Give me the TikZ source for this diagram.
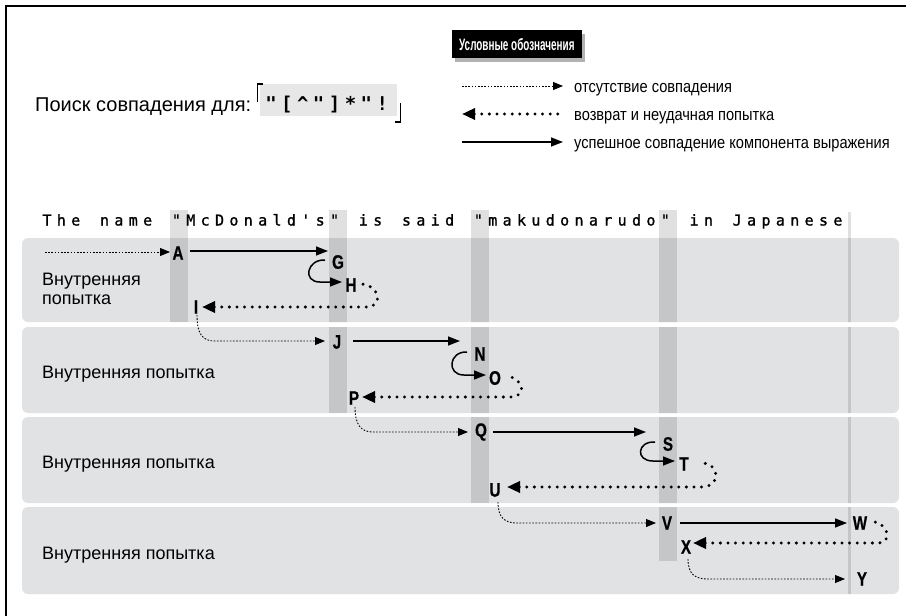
\documentclass[tikz,border=0pt]{standalone}
\usepackage{fontspec}
\setmainfont{Liberation Sans}
\newfontfamily\keyfont[FakeStretch=0.78,FakeBold=0.5]{Liberation Sans}
\newfontfamily\headfont[FakeStretch=0.6]{Liberation Sans}
\newfontfamily\legfont[FakeStretch=0.86]{Liberation Sans}
\newfontfamily\mfont[FakeBold=1.2]{DejaVu Sans Mono}
\newfontfamily\rxfont{DejaVu Sans Mono}
\usetikzlibrary{arrows.meta,calc,shadows}
\definecolor{bandgray}{HTML}{E1E2E4}
\definecolor{regexgray}{HTML}{E7E7E7}
\newcommand\mqq{\char34\relax}
\newcommand\mqa{\char39\relax}
\newcommand\mhat{\char94\relax}
\begin{document}
\begin{tikzpicture}[x=1pt,y=-1pt,
 band/.style={fill=bandgray, rounded corners=6pt},
 col/.style={fill=black, fill opacity=0.12},
 lab/.style={font=\keyfont\bfseries\fontsize{19.5}{19.5}\selectfont, inner sep=0pt},
 txt/.style={font=\fontsize{18}{19}\selectfont, inner sep=0pt, anchor=base west},
 leg/.style={font=\legfont\fontsize{17}{18}\selectfont, inner sep=0pt, anchor=base west},
 mono/.style={font=\mfont\fontsize{15}{15}\selectfont, inner sep=0pt, anchor=base},
 rx/.style={font=\rxfont\bfseries\fontsize{19}{19}\selectfont, inner sep=0pt, anchor=base},
 nomatch/.style={line width=0.9pt, dash pattern=on 1.6pt off 1.6pt, -{Triangle[length=10pt,width=8pt]}},
 backtrack/.style={line width=3.3pt, line cap=round, dash pattern=on 0pt off 7.6pt, {Triangle[length=13pt,width=11pt]}-},
 matchline/.style={line width=1.5pt, -{Triangle[length=12pt,width=9pt]}},
]
\useasboundingbox (0,0) rectangle (906,616);
\fill[white] (0,0) rectangle (906,616);
\draw[line width=2.5pt] (6,616) -- (6,6) -- (906,6);

% title and regex
\node[font=\fontsize{20}{21}\selectfont, inner sep=0pt, anchor=base west] (title) at (35,111) {Поиск совпадения для:};
\fill[regexgray] (260,84) rectangle (397,116);
\draw[line width=1.1pt] (263,84) -- (257.5,84) -- (257.5,102);
\draw[line width=1.1pt] (400.5,103) -- (400.5,122) -- (394.5,122);
\foreach \ch [count=\k from 0] in {\mqq,{[},\mhat,\mqq,{]},*,\mqq,!}
  \node[rx] (r\k) at ({271+\k*15.9},110) {\ch};

% legend
\node[fill=black, text=white, font=\headfont\bfseries\fontsize{16.5}{17}\selectfont, anchor=north west,
      inner xsep=7pt, minimum height=28pt,
      drop shadow={shadow xshift=3pt, shadow yshift=-4pt, fill=black, opacity=0.3}] (legend) at (452,30) {Условные обозначения};
\node[leg] (l1) at (574,92) {отсутствие совпадения};
\node[leg] (l2) at (574,120) {возврат и неудачная попытка};
\node[leg] (l3) at (574,148) {успешное совпадение компонента выражения};
\coordinate (k1a) at (462,86); \coordinate (k1b) at (563,86);
\coordinate (k2a) at (462,114); \coordinate (k2b) at (563,114);
\coordinate (k3a) at (462,142); \coordinate (k3b) at (563,142);
\draw[nomatch] (k1a) -- (k1b);
\draw[backtrack] (k2a) -- (k2b);
\draw[matchline] (k3a) -- (k3b);

% bands
\foreach \t/\b in {238/322,327/413,417/503,507/594}
  \fill[band] (22,\t) rectangle (899,\b);

% columns
\begin{scope}
\clip (150,210) rectangle (880,238) (22,238) rectangle (899,322) (22,327) rectangle (899,413)
      (22,417) rectangle (899,503) (22,507) rectangle (899,594);
\fill[col] (170,210) rectangle (188,322);
\fill[col] (328.5,210) rectangle (346.5,413);
\fill[col] (471,210) rectangle (489,503);
\fill[col] (659,210) rectangle (677,561);
\fill[col] (848,212) rectangle (851,594);
\end{scope}

% mono text
\foreach \ch [count=\i from 0] in {T,h,e,{},n,a,m,e,{},\mqq,M,c,D,o,n,a,l,d,\mqa,s,\mqq,{},i,s,{},s,a,i,d,{},\mqq,m,a,k,u,d,o,n,a,r,u,d,o,\mqq,{},i,n,{},J,a,p,a,n,e,s,e}
  \node[mono] (m\i) at ({47+\i*14.38},225.5) {\ch};

% band labels
\node[font=\fontsize{18}{19}\selectfont, inner sep=0pt, anchor=north west, align=left] (b1) at (42,272.5) {Внутренняя\\попытка};
\node[txt] (b2) at (42,378.5) {Внутренняя попытка};
\node[txt] (b3) at (42,468.5) {Внутренняя попытка};
\node[txt] (b4) at (42,559) {Внутренняя попытка};

% letters
\foreach \n/\x/\y in {A/178/253, G/338/262, H/351/285, I/196/307, J/337/342, N/480/354, O/495/378, P/354/398,
  Q/481/432, S/668/444, T/684/464, U/495/490, V/667/523, W/860/523, X/686/547, Y/862/579}
  \node[lab] (\n) at (\x,\y) {\n};

% band 1
\coordinate (s0) at (45,252);
\draw[nomatch] (s0) -- ($(A)+(-8,-1)$);
\draw[matchline] ($(A)+(12,-2)$) -- ($(G)+(-10,-11)$);
\draw[matchline] ($(G)+(-13,-2)$) .. controls +(-18,-1) and +(-18,0) .. ($(H)+(-31,-3)$) -- ($(H)+(-9,-3)$);
\draw[backtrack] ($(I)+(6,0)$) -- ($(H |- I)+(15,0)$) .. controls +(18,0) and +(18,2) .. ($(H)+(11,-1)$);
\draw[nomatch] ($(I)+(1,8)$) .. controls +(0,20) and +(-12,0) .. ($(I |- J)+(19,-1)$) -- ($(J)+(-12,-1)$);

% band 2
\draw[matchline] ($(J)+(16,-1)$) -- ($(N |- J)+(-20,-1)$);
\draw[matchline] ($(N)+(-13,-2)$) .. controls +(-18,-1) and +(-18,0) .. ($(O)+(-31,-3)$) -- ($(O)+(-9,-3)$);
\draw[backtrack] ($(P)+(8,-1)$) -- ($(O |- P)+(15,-1)$) .. controls +(18,0) and +(18,2) .. ($(O)+(11,-2)$);
\draw[nomatch] ($(P)+(1,9)$) .. controls +(0,18) and +(-12,0) .. ($(P |- Q)+(19,0)$) -- ($(Q)+(-13,0)$);

% band 3
\draw[matchline] ($(Q)+(12,0)$) -- ($(S |- Q)+(-22,0)$);
\draw[matchline] ($(S)+(-13,-2)$) .. controls +(-18,-1) and +(-18,0) .. ($(T)+(-31,-3)$) -- ($(T)+(-9,-3)$);
\draw[backtrack] ($(U)+(12,-3)$) -- ($(T |- U)+(18,-3)$) .. controls +(18,0) and +(18,2) .. ($(T)+(19,-1)$);
\draw[nomatch] ($(U)+(3,12)$) .. controls +(0,16) and +(-12,0) .. ($(U |- V)+(22,0)$) -- ($(V)+(-11,0)$);

% band 4
\draw[matchline] ($(V)+(13,0)$) -- ($(W)+(-13,0)$);
\draw[backtrack] ($(X)+(7,-4)$) -- ($(W |- X)+(18,-4)$) .. controls +(14,0) and +(14,3) .. ($(W)+(15,-1)$);
\draw[nomatch] ($(X)+(2,12)$) .. controls +(0,16) and +(-12,0) .. ($(X |- Y)+(22,0)$) -- ($(Y)+(-17,0)$);
\end{tikzpicture}
\end{document}
